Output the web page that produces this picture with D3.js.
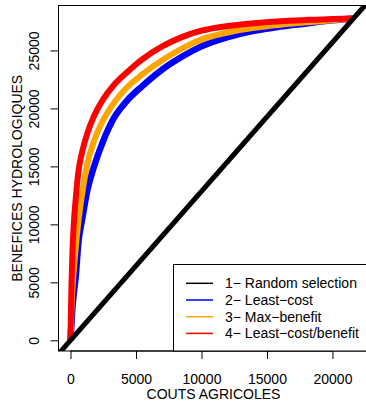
<!DOCTYPE html>
<html>
<head>
<meta charset="utf-8">
<script src="https://cdn.jsdelivr.net/npm/d3@7"></script>
<style>
  html, body { margin: 0; padding: 0; background: #fff; }
  svg { display: block; font-family: "Liberation Sans", Arial, sans-serif; }
</style>
</head>
<body>
<svg id="chart" width="366" height="403"></svg>
<script>
// Cumulative hydrological benefit against cumulative agricultural cost
const costs = [0, 40, 80, 150, 250, 400, 600, 900, 1300, 1800, 2500, 3300, 4300,
               5500, 7000, 8500, 10000, 12000, 14000, 16000, 18000, 20000, 21600];
const leastCost = [0, 800, 1600, 2800, 4000, 5500, 8400, 10500, 13000, 15000, 17200, 19150, 20650,
                   21950, 23350, 24450, 25350, 26150, 26700, 27060, 27330, 27600, 27760];
const maxBenefit = [0, 1500, 2800, 4500, 6000, 8000, 10200, 12700, 15300, 17200, 19000, 20450, 21800,
                    22950, 24150, 25150, 25950, 26550, 26950, 27220, 27420, 27600, 27760];
const leastCostBenefit = [0, 2800, 5000, 7700, 10000, 12200, 14500, 16300, 17900, 19350, 20800, 22000, 23100,
                          24250, 25350, 26150, 26700, 27100, 27350, 27520, 27630, 27720, 27760];
// Random selection: straight line from the origin to the total (cost, benefit)
const randomCost = [0, 21600];
const randomBenefit = [0, 27760];

const legendLabels = ["1\u2212 Random selection", "2\u2212 Least\u2212cost",
                      "3\u2212 Max\u2212benefit", "4\u2212 Least\u2212cost/benefit"];
const seriesColors = ["#000000", "#0000ff", "#ffa500", "#ff0000"];
const xTicks = [0, 5000, 10000, 15000, 20000];
const yTicks = [0, 5000, 10000, 15000, 20000, 25000];
const xLimits = [-915, 23780];
const yLimits = [-921, 28875];

const svg = d3.select("#chart");
const pLeft = 58.5, pRight = 382, pTop = 5.5, pBottom = 351;

const x = d3.scaleLinear().domain(xLimits).range([pLeft, pRight]);
const y = d3.scaleLinear().domain(yLimits).range([pBottom, pTop]);

svg.append("defs").append("clipPath").attr("id", "plotClip")
  .append("rect").attr("x", pLeft).attr("y", pTop)
  .attr("width", pRight - pLeft).attr("height", pBottom - pTop);

const plot = svg.append("g").attr("clip-path", "url(#plotClip)");

const line = d3.line().x(d => x(d[0])).y(d => y(d[1]));
const smoothLine = d3.line().x(d => x(d[0])).y(d => y(d[1])).curve(d3.curveMonotoneX);

const curves = [
  { values: leastCost, color: seriesColors[1], width: 6.5 },
  { values: maxBenefit, color: seriesColors[2], width: 6 },
  { values: leastCostBenefit, color: seriesColors[3], width: 6 }
];
curves.forEach(c => {
  plot.append("path")
    .datum(costs.map((v, i) => [v, c.values[i]]))
    .attr("fill", "none")
    .attr("stroke", c.color)
    .attr("stroke-width", c.width)
    .attr("stroke-linejoin", "round")
    .attr("d", smoothLine);
});

// Random selection drawn as a full reference line across the plot region
const slope = (randomBenefit[1] - randomBenefit[0]) / (randomCost[1] - randomCost[0]);
const interceptB = randomBenefit[0] - slope * randomCost[0];
plot.append("path")
  .datum(xLimits.map(c => [c, interceptB + slope * c]))
  .attr("fill", "none")
  .attr("stroke", seriesColors[0])
  .attr("stroke-width", 5)
  .attr("d", line);

// Frame
svg.append("rect")
  .attr("x", pLeft).attr("y", pTop)
  .attr("width", pRight - pLeft).attr("height", pBottom - pTop)
  .attr("fill", "none").attr("stroke", "#000").attr("stroke-width", 1);

// Axes
const xAxis = svg.append("g").attr("transform", `translate(0,${pBottom})`)
  .call(d3.axisBottom(x).tickValues(xTicks).tickSize(8).tickFormat(d3.format("d")));
const yAxis = svg.append("g").attr("transform", `translate(${pLeft},0)`)
  .call(d3.axisLeft(y).tickValues(yTicks).tickSize(8).tickFormat(d3.format("d")));

[xAxis, yAxis].forEach(a => {
  a.select(".domain").attr("stroke", "#000");
  a.selectAll(".tick line").attr("stroke", "#000");
  a.selectAll("text").attr("font-size", 14).attr("fill", "#000")
    .attr("font-family", "'Liberation Sans', Arial, sans-serif");
});
xAxis.select(".domain").attr("d", `M${x(xTicks[0])},0H${x(xTicks[xTicks.length - 1])}`);
xAxis.selectAll(".tick text").attr("dy", null).attr("y", 32.5);

yAxis.select(".domain").attr("d", `M0,${y(yTicks[0])}V${y(yTicks[yTicks.length - 1])}`);
yAxis.selectAll(".tick text")
  .attr("x", null).attr("dy", null).attr("text-anchor", "middle")
  .attr("transform", "translate(-20,0) rotate(-90)")
  .attr("y", 0);

// Axis titles
svg.append("text")
  .attr("x", (x(xTicks[0]) + x(xTicks[xTicks.length - 1])) / 2 + 12)
  .attr("y", 399)
  .attr("text-anchor", "middle").attr("font-size", 14)
  .text("COUTS AGRICOLES");

svg.append("text")
  .attr("transform", `translate(21.5,${(pTop + pBottom) / 2}) rotate(-90)`)
  .attr("text-anchor", "middle").attr("font-size", 14)
  .text("BENEFICES HYDROLOGIQUES");

// Legend
const lg = svg.append("g");
const lgLeft = 173.5, lgTop = 264.5;
lg.append("rect")
  .attr("x", lgLeft).attr("y", lgTop)
  .attr("width", pRight - lgLeft).attr("height", pBottom - lgTop)
  .attr("fill", "#fff").attr("stroke", "#000").attr("stroke-width", 1);

legendLabels.forEach((lab, i) => {
  const cy = 283.3 + i * 16.7;
  lg.append("line")
    .attr("x1", 186).attr("x2", 213)
    .attr("y1", cy).attr("y2", cy)
    .attr("stroke", seriesColors[i]).attr("stroke-width", 1.5);
  lg.append("text")
    .attr("x", 225).attr("y", cy + 5)
    .attr("font-size", 14)
    .text(lab);
});
</script>
</body>
</html>
